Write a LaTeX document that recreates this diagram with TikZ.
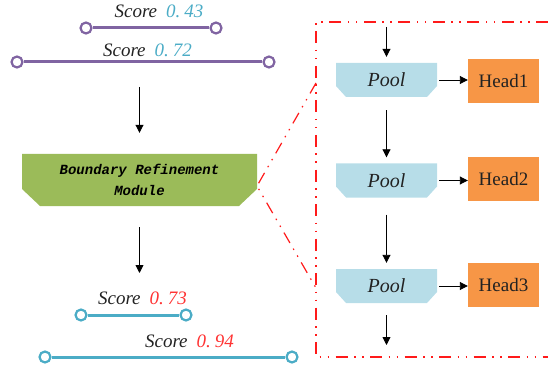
\documentclass[tikz,border=0pt]{standalone}
\usepackage{fontspec}
\setmainfont{Liberation Serif}
\newfontfamily\monof{Liberation Mono}
\usetikzlibrary{arrows.meta}
\definecolor{cpurple}{HTML}{8064A2}
\definecolor{cteal}{HTML}{4BACC6}
\definecolor{cgreen}{HTML}{9BBB59}
\definecolor{cpool}{HTML}{B7DDE8}
\definecolor{chead}{HTML}{F79646}
\definecolor{cnumblue}{HTML}{4BACC6}
\definecolor{cnumred}{HTML}{FF3333}
\definecolor{ctext}{HTML}{222222}
\definecolor{cframe}{HTML}{FF1A1A}
\tikzset{
  endpt/.style={circle, draw=#1, line width=2.2pt, fill=white, minimum size=11pt, inner sep=0pt},
  bar/.style={draw=#1, line width=3pt},
  scorelbl/.style={anchor=base, inner sep=0pt, text=ctext, font=\fontsize{19}{22}\selectfont\itshape},
  arr/.style={draw=black, line width=0.9pt, -{Triangle[length=8pt,width=8pt]}},
  chamfill/.style n args={3}{path picture={
    \fill[#1] (path picture bounding box.north west) -- (path picture bounding box.north east)
      -- ([yshift=#3]path picture bounding box.south east) -- ([xshift=-#2]path picture bounding box.south east)
      -- ([xshift=#2]path picture bounding box.south west) -- ([yshift=#3]path picture bounding box.south west) -- cycle;}},
  poolbox/.style={rectangle, chamfill={cpool}{10pt}{11pt}, draw=none,
    minimum width=101pt, minimum height=34pt, inner sep=0pt,
    font=\fontsize{20}{22}\selectfont\itshape, text=ctext},
  headbox/.style={rectangle, fill=chead, draw=none, minimum width=71pt, minimum height=44pt, inner sep=0pt,
    font=\fontsize{19}{22}\selectfont, text=ctext},
  brmbox/.style={rectangle, chamfill={cgreen}{18pt}{17pt}, draw=none,
    minimum width=235pt, minimum height=52pt, inner sep=0pt, align=center,
    font=\monof\bfseries\itshape\fontsize{14}{21}\selectfont, text=black},
  framedash/.style={draw=cframe, line width=1.2pt,
    dash pattern=on 12pt off 6.5pt on 1.5pt off 6.5pt on 1.5pt off 6.5pt}
}
\begin{document}
\begin{tikzpicture}[x=1pt,y=-1pt]
\useasboundingbox (0,0) rectangle (548,366);

% top score bars
\node[scorelbl] (t1) at (159,18) {Score\kern9pt\textcolor{cnumblue}{0.\kern4pt 43}};
\node[endpt=cpurple] (s1a) at (86,28) {};
\node[endpt=cpurple] (s1b) at (216,28) {};
\draw[bar=cpurple] (s1a) -- (s1b);

\node[scorelbl] (t2) at (147.5,57) {Score\kern9pt\textcolor{cnumblue}{0.\kern4pt 72}};
\node[endpt=cpurple] (s2a) at (17,62) {};
\node[endpt=cpurple] (s2b) at (269,62) {};
\draw[bar=cpurple] (s2a) -- (s2b);

% boundary refinement module
\node[brmbox] (brm) at (139.5,180) {Boundary Refinement\\Module};
\coordinate (a1s) at (139.5,87);
\coordinate (a2e) at (139.5,273);
\draw[arr, shorten >=21pt] (a1s) -- (brm);
\draw[arr, shorten <=21pt] (brm) -- (a2e);

% bottom score bars
\node[scorelbl] (t3) at (142.5,304) {Score\kern9pt\textcolor{cnumred}{0.\kern4pt 73}};
\node[endpt=cteal] (s3a) at (81,315) {};
\node[endpt=cteal] (s3b) at (186,315) {};
\draw[bar=cteal] (s3a) -- (s3b);

\node[scorelbl] (t4) at (189.5,347) {Score\kern9pt\textcolor{cnumred}{0.\kern4pt 94}};
\node[endpt=cteal] (s4a) at (45,357) {};
\node[endpt=cteal] (s4b) at (292,357) {};
\draw[bar=cteal] (s4a) -- (s4b);

% frame
\coordinate (ftr) at (548,22);
\coordinate (ftl) at (316,22);
\coordinate (fbl) at (316,357);
\coordinate (fbr) at (548,357);
\draw[framedash] (ftr) -- (ftl) -- (fbl) -- (fbr);
\coordinate (tip) at (257,186);
\coordinate (fu) at (316,83);
\coordinate (fd) at (316,288);
\draw[framedash] (fu) -- (tip) -- (fd);

% pools and heads
\node[poolbox] (p1) at (386.5,80) {Pool};
\node[poolbox] (p2) at (386.5,180.5) {Pool};
\node[poolbox] (p3) at (386.5,286) {Pool};
\node[headbox] (h1) at (503.5,81) {Head1};
\node[headbox] (h2) at (503.5,179) {Head2};
\node[headbox] (h3) at (503.5,285) {Head3};

\coordinate (in) at (386.5,27);
\coordinate (out) at (386.5,345);
\draw[arr, shorten >=6pt] (in) -- (p1);
\draw[arr, shorten <=13pt, shorten >=6pt] (p1) -- (p2);
\draw[arr, shorten <=17pt, shorten >=6pt] (p2) -- (p3);
\draw[arr, shorten <=12pt] (p3) -- (out);
\draw[arr, shorten <=2pt] (p1.east) -- (p1.east -| h1.west);
\draw[arr, shorten <=2pt] (p2.east) -- (p2.east -| h2.west);
\draw[arr, shorten <=2pt] (p3.east) -- (p3.east -| h3.west);
\end{tikzpicture}
\end{document}
